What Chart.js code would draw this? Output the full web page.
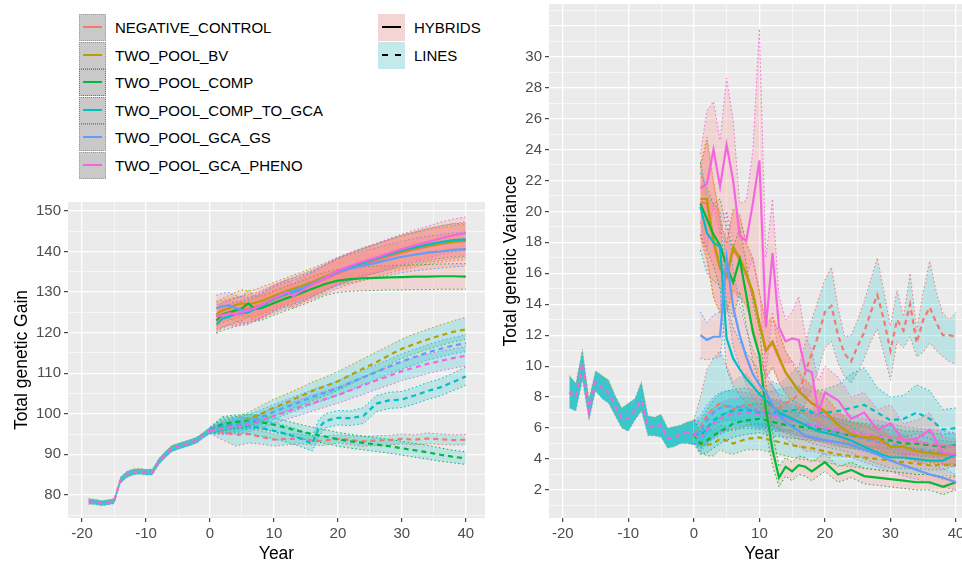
<!DOCTYPE html>
<html>
<head>
<meta charset="utf-8">
<script src="https://cdn.jsdelivr.net/npm/chart.js@4.4.0/dist/chart.umd.min.js"></script>
<style>
  html, body { margin: 0; padding: 0; }
  body { width: 962px; height: 566px; overflow: hidden; position: relative; background: #fff;
         font-family: "Liberation Sans", Arial, sans-serif; }
  #gainChart { position: absolute; left: 0; top: 190px; }
  #varChart { position: absolute; left: 490px; top: 0; }
  .leg-row { position: absolute; height: 27px; display: flex; align-items: center; font-size: 15px; color: #000; white-space: nowrap; }
  .key { width: 25px; height: 25px; border: 1px dotted; position: relative; margin-right: 9px; }
  .key span { position: absolute; left: 3px; right: 3px; top: 11px; border-top: 2px solid; }
</style>
</head>
<body>
<div id="legend"></div>
<canvas id="gainChart" width="490" height="376"></canvas>
<canvas id="varChart" width="485" height="566"></canvas>
<script>
// ---------- series ----------
const seriesNames = ["NEGATIVE_CONTROL", "TWO_POOL_BV", "TWO_POOL_COMP", "TWO_POOL_COMP_TO_GCA", "TWO_POOL_GCA_GS", "TWO_POOL_GCA_PHENO"];
const seriesColors = ["#F8766D", "#B79F00", "#00BA38", "#00BFC4", "#619CFF", "#F564E3"];
const typeNames = ["HYBRIDS", "LINES"];

// ---------- total genetic gain ----------
const burnYears = [-19, -18, -17, -16, -15, -14, -13, -12, -11, -10, -9, -8, -7, -6, -5, -4, -3, -2, -1, 0];
const gainBurn   = [78.4, 78.2, 77.9, 78.1, 78.4, 83.6, 85.0, 85.6, 85.8, 85.6, 85.6, 88.2, 89.9, 91.4, 91.9, 92.4, 92.9, 93.5, 94.7, 95.9];
const gainBurnLo = [77.7, 77.6, 77.3, 77.5, 77.8, 82.8, 84.3, 84.9, 85.1, 84.9, 84.9, 87.4, 89.1, 90.6, 91.2, 91.7, 92.2, 92.8, 94.0, 95.1];
const gainBurnHi = [79.1, 78.9, 78.6, 78.8, 79.1, 84.4, 85.8, 86.4, 86.5, 86.3, 86.4, 89.0, 90.7, 92.2, 92.7, 93.2, 93.7, 94.3, 95.5, 96.7];

const gainLineYears = [0, 2, 4, 6, 8, 10, 12, 14, 16, 17, 18, 20, 22, 24, 26, 28, 30, 32, 34, 36, 38, 40];
const gainLineNeg     = [95.9, 95.5, 94.8, 95.0, 94.3, 93.6, 93.8, 93.9, 93.4, 93.3, 93.4, 93.8, 93.5, 93.2, 93.4, 93.5, 93.8, 93.6, 93.9, 93.7, 93.5, 93.6];
const gainLineNegLo   = [95.1, 93.5, 92.0, 92.8, 92.5, 92.0, 92.3, 92.6, 92.3, 92.2, 92.2, 92.8, 92.4, 92.0, 92.2, 92.3, 92.6, 92.3, 92.6, 92.4, 92.3, 92.3];
const gainLineNegHi   = [96.7, 97.0, 96.5, 96.5, 95.8, 95.0, 95.1, 95.0, 94.5, 94.4, 94.6, 94.8, 94.6, 94.4, 94.6, 94.7, 95.0, 94.8, 95.3, 95.0, 94.8, 94.9];
const gainLineBv      = [95.9, 97.0, 97.8, 98.6, 100.0, 101.5, 102.8, 104.2, 105.6, 106.2, 106.8, 108.0, 109.6, 111.2, 112.7, 114.4, 116.0, 117.2, 118.3, 119.3, 120.2, 120.8];
const gainLineBvLo    = [95.1, 95.8, 96.3, 96.8, 98.0, 99.5, 100.7, 102.0, 103.3, 103.9, 104.5, 105.7, 107.3, 108.9, 110.4, 112.1, 113.6, 114.8, 115.9, 116.8, 117.7, 118.3];
const gainLineBvHi    = [96.7, 98.5, 99.2, 100.3, 102.0, 103.6, 104.9, 106.3, 107.8, 108.4, 109.0, 110.4, 112.0, 113.6, 115.2, 116.8, 118.4, 119.7, 120.8, 121.9, 122.9, 123.8];
const gainLineComp    = [95.9, 97.5, 98.0, 98.2, 97.9, 97.3, 96.5, 95.7, 95.0, 94.7, 94.4, 93.7, 93.2, 92.8, 92.4, 92.0, 91.5, 91.0, 90.5, 89.9, 89.4, 89.0];
const gainLineCompLo  = [95.1, 95.8, 96.3, 96.5, 96.2, 95.6, 94.8, 94.0, 93.3, 93.0, 92.7, 92.0, 91.5, 91.1, 90.7, 90.3, 89.8, 89.3, 88.8, 88.3, 87.9, 87.5];
const gainLineCompHi  = [96.7, 99.3, 99.7, 99.8, 99.6, 99.0, 98.2, 97.4, 96.7, 96.4, 96.1, 95.4, 94.9, 94.5, 94.1, 93.7, 93.2, 92.7, 92.2, 91.6, 91.0, 90.6];
const gainLineC2g     = [95.9, 97.0, 97.3, 97.0, 96.5, 95.8, 95.0, 94.0, 92.6, 96.5, 98.2, 99.0, 98.9, 99.5, 102.5, 103.3, 103.5, 104.5, 105.6, 106.5, 107.8, 109.2];
const gainLineC2gLo   = [95.1, 95.0, 95.3, 95.0, 94.5, 93.8, 93.0, 92.0, 90.8, 94.3, 96.5, 97.2, 97.1, 97.6, 100.5, 101.3, 101.5, 102.4, 103.5, 104.4, 105.7, 107.0];
const gainLineC2gHi   = [96.7, 99.0, 99.3, 99.0, 98.5, 97.8, 97.0, 96.0, 94.5, 98.5, 100.0, 100.8, 100.7, 101.5, 104.5, 105.3, 105.5, 106.5, 107.7, 108.6, 110.0, 111.5];
const gainLineGs      = [95.9, 96.6, 97.3, 98.0, 99.2, 100.5, 101.7, 102.9, 104.1, 104.7, 105.2, 106.3, 107.7, 109.0, 110.3, 111.6, 112.9, 114.0, 115.1, 116.0, 116.8, 117.4];
const gainLineGsLo    = [95.1, 95.2, 95.6, 96.2, 97.4, 98.7, 99.9, 101.1, 102.3, 102.9, 103.4, 104.5, 105.9, 107.2, 108.5, 109.8, 111.0, 112.1, 113.2, 114.0, 114.8, 115.3];
const gainLineGsHi    = [96.7, 98.0, 99.0, 99.8, 101.0, 102.3, 103.5, 104.7, 105.9, 106.5, 107.0, 108.1, 109.5, 110.8, 112.1, 113.4, 114.8, 115.9, 117.0, 118.0, 118.8, 119.5];
const gainLinePheno   = [95.9, 96.4, 96.8, 97.3, 98.3, 99.5, 100.5, 101.6, 102.6, 103.1, 103.6, 104.6, 105.8, 107.0, 108.2, 109.3, 110.5, 111.4, 112.3, 113.0, 113.7, 114.3];
const gainLinePhenoLo = [95.1, 94.9, 95.0, 95.5, 96.5, 97.6, 98.6, 99.6, 100.6, 101.1, 101.6, 102.6, 103.7, 104.8, 106.0, 107.0, 108.2, 109.0, 109.9, 110.6, 111.2, 111.8];
const gainLinePhenoHi = [96.7, 97.9, 98.6, 99.1, 100.1, 101.4, 102.4, 103.5, 104.6, 105.1, 105.6, 106.6, 107.9, 109.2, 110.4, 111.6, 112.8, 113.8, 114.7, 115.4, 116.0, 116.6];

const gainHybYears = [1, 2, 3, 4, 5, 6, 7, 8, 10, 12, 13, 14, 16, 18, 20, 22, 24, 26, 28, 30, 32, 34, 36, 38, 40];
const gainHybNeg     = [124.0, 124.5, 125.0, 125.3, 125.6, 126.0, 126.4, 126.9, 128.3, 129.5, 130.0, 130.6, 131.8, 133.2, 134.6, 135.8, 136.8, 137.8, 138.8, 139.7, 140.5, 141.2, 141.8, 142.3, 142.6];
const gainHybNegLo   = [120.5, 121.2, 121.8, 122.0, 122.3, 122.6, 123.0, 123.5, 124.8, 126.0, 126.5, 127.1, 128.3, 129.6, 130.9, 132.0, 132.9, 133.8, 134.7, 135.5, 136.2, 136.8, 137.3, 137.7, 137.9];
const gainHybNegHi   = [127.8, 128.0, 128.3, 128.7, 129.0, 129.4, 129.8, 130.3, 131.8, 133.0, 133.6, 134.2, 135.4, 136.8, 138.3, 139.6, 140.7, 141.8, 142.9, 143.9, 144.8, 145.6, 146.3, 146.9, 147.3];
const gainHybBv      = [124.5, 125.5, 126.0, 126.8, 127.2, 127.0, 127.3, 127.8, 129.0, 130.3, 130.8, 131.3, 132.5, 133.8, 135.2, 136.3, 137.3, 138.3, 139.2, 140.0, 140.8, 141.4, 142.0, 142.4, 142.7];
const gainHybBvLo    = [121.5, 122.5, 123.0, 123.6, 124.0, 123.8, 124.0, 124.5, 125.8, 127.2, 127.7, 128.2, 129.4, 130.6, 131.8, 132.8, 133.7, 134.6, 135.4, 136.1, 136.8, 137.3, 137.8, 138.2, 138.5];
const gainHybBvHi    = [127.5, 128.5, 129.2, 130.0, 130.5, 130.3, 130.6, 131.2, 132.4, 133.6, 134.2, 134.7, 135.9, 137.2, 138.6, 139.8, 140.9, 141.9, 142.9, 143.8, 144.6, 145.3, 145.9, 146.4, 146.8];
const gainHybComp    = [123.0, 124.5, 125.0, 125.5, 126.0, 127.2, 125.8, 126.0, 127.3, 128.5, 129.0, 129.6, 130.8, 132.0, 132.8, 133.2, 133.4, 133.5, 133.6, 133.7, 133.8, 133.8, 133.9, 133.9, 133.8];
const gainHybCompLo  = [120.0, 121.5, 122.0, 122.5, 123.0, 124.0, 122.8, 123.0, 124.3, 125.5, 126.0, 126.6, 127.8, 129.2, 129.9, 130.2, 130.3, 130.4, 130.5, 130.5, 130.6, 130.6, 130.7, 130.7, 130.7];
const gainHybCompHi  = [126.0, 127.5, 128.0, 128.5, 129.0, 130.3, 128.9, 129.0, 130.3, 131.5, 132.0, 132.6, 133.8, 134.9, 135.6, 136.0, 136.2, 136.4, 136.5, 136.6, 136.7, 136.8, 136.9, 137.0, 137.0];
const gainHybC2g     = [122.0, 123.5, 124.0, 124.5, 124.8, 125.0, 125.8, 126.5, 128.3, 129.5, 130.0, 130.5, 132.0, 133.5, 135.0, 136.2, 137.3, 138.3, 139.3, 140.3, 141.0, 141.7, 142.3, 142.8, 143.0];
const gainHybC2gLo   = [119.8, 120.6, 121.0, 121.5, 121.8, 122.0, 122.8, 123.5, 125.3, 126.5, 127.0, 127.5, 129.0, 130.4, 131.8, 132.9, 133.9, 134.8, 135.7, 136.6, 137.2, 137.8, 138.3, 138.7, 138.9];
const gainHybC2gHi   = [124.5, 126.3, 127.0, 127.5, 127.8, 128.0, 128.8, 129.5, 131.3, 132.5, 133.0, 133.5, 135.0, 136.6, 138.2, 139.5, 140.7, 141.8, 142.9, 144.0, 144.8, 145.6, 146.3, 146.8, 147.0];
const gainHybGs      = [126.0, 126.5, 126.7, 126.0, 125.6, 125.5, 126.0, 126.8, 128.5, 129.8, 130.3, 130.8, 132.0, 133.5, 135.0, 135.8, 136.5, 137.2, 138.0, 138.7, 139.2, 139.7, 140.0, 140.4, 140.6];
const gainHybGsLo    = [122.8, 123.3, 123.5, 122.8, 122.4, 122.3, 122.8, 123.6, 125.3, 126.6, 127.1, 127.6, 128.8, 130.2, 131.6, 132.3, 132.9, 133.5, 134.2, 134.8, 135.2, 135.6, 135.9, 136.2, 136.4];
const gainHybGsHi    = [129.2, 129.7, 129.9, 129.2, 128.8, 128.7, 129.2, 130.0, 131.7, 133.0, 133.5, 134.0, 135.2, 136.8, 138.4, 139.3, 140.1, 140.9, 141.8, 142.6, 143.2, 143.8, 144.1, 144.6, 144.8];
const gainHybPheno   = [124.0, 124.3, 124.8, 124.5, 125.0, 125.5, 126.0, 126.8, 128.5, 130.0, 129.0, 130.0, 131.8, 133.5, 135.3, 136.5, 137.6, 138.5, 139.6, 140.6, 141.5, 142.3, 143.2, 144.0, 144.5];
const gainHybPhenoLo = [121.0, 121.3, 121.8, 121.5, 122.0, 122.5, 123.0, 123.8, 125.5, 127.0, 126.0, 127.0, 128.8, 130.4, 132.1, 133.2, 134.2, 135.0, 136.0, 136.9, 137.7, 138.4, 139.2, 139.9, 140.3];
const gainHybPhenoHi = [127.0, 127.3, 127.8, 127.5, 128.0, 128.5, 129.0, 129.8, 131.5, 133.0, 132.0, 133.0, 134.8, 136.6, 138.5, 139.8, 141.0, 142.0, 143.2, 144.3, 145.3, 146.2, 147.2, 148.0, 148.5];

// ---------- total genetic variance ----------
const varBurn   = [8.3, 8.0, 10.2, 7.1, 9.0, 8.6, 8.3, 7.4, 6.6, 6.6, 7.2, 7.8, 6.1, 6.1, 6.2, 5.3, 5.4, 5.6, 5.7, 5.6];
const varBurnLo = [7.3, 7.1, 9.1, 6.5, 8.4, 7.9, 7.6, 6.8, 6.0, 5.8, 6.5, 7.1, 5.5, 5.5, 5.4, 4.7, 4.8, 5.0, 5.0, 4.9];
const varBurnHi = [9.4, 8.9, 11.1, 7.9, 9.7, 9.4, 9.1, 8.1, 7.3, 7.6, 7.9, 9.0, 6.8, 6.7, 6.9, 6.0, 6.1, 6.2, 6.4, 6.5];

const varNegYears = [0, 1, 2, 3, 4, 5, 6, 7, 8, 9, 10, 11, 12, 13, 14, 15, 16, 17, 18, 19, 20, 21, 22, 23, 24, 25, 26, 27, 28, 29, 30, 31, 32, 33, 34, 35, 36, 37, 38, 39, 40];
const varLineNeg   = [5.6, 6.0, 6.8, 7.3, 7.6, 7.4, 7.2, 7.3, 7.6, 7.4, 7.0, 7.2, 7.5, 7.3, 7.6, 7.8, 8.2, 9.6, 10.8, 12.0, 13.5, 13.9, 12.0, 10.8, 10.3, 11.3, 12.2, 13.5, 14.6, 13.0, 11.0, 13.0, 12.3, 14.0, 11.5, 13.0, 13.8, 12.8, 12.0, 12.0, 11.9];
const varLineNegLo = [5.0, 4.8, 5.0, 5.4, 5.8, 5.8, 5.9, 6.0, 6.2, 6.2, 6.0, 6.1, 6.2, 6.0, 6.3, 6.4, 6.8, 7.5, 8.5, 9.8, 11.2, 11.6, 10.2, 9.3, 8.9, 9.6, 10.5, 11.6, 12.4, 10.8, 9.1, 11.6, 11.2, 11.9, 10.6, 10.9, 11.5, 11.0, 10.6, 10.3, 10.1];
const varLineNegHi = [6.5, 8.0, 9.8, 10.5, 11.0, 10.0, 9.0, 9.3, 9.5, 9.0, 8.5, 8.7, 9.0, 8.8, 9.2, 9.6, 10.0, 11.5, 13.0, 14.3, 15.6, 16.4, 13.8, 11.9, 12.0, 13.0, 14.2, 15.6, 17.0, 14.8, 12.6, 14.9, 13.2, 16.0, 12.3, 14.8, 16.8, 14.8, 13.4, 13.0, 13.5];

const varLineYears = [0, 1, 2, 3, 4, 5, 6, 8, 10, 12, 14, 16, 18, 20, 22, 24, 26, 28, 30, 32, 34, 36, 38, 40];
const varLineBv      = [5.6, 5.0, 4.9, 5.0, 5.3, 5.2, 5.0, 5.3, 5.4, 5.2, 5.0, 4.8, 4.7, 4.5, 4.3, 4.2, 4.1, 4.0, 3.9, 3.8, 3.7, 3.6, 3.6, 3.6];
const varLineBvLo    = [5.0, 4.4, 4.2, 4.2, 4.6, 4.4, 4.3, 4.6, 4.6, 4.4, 4.2, 4.0, 3.9, 3.8, 3.6, 3.5, 3.4, 3.3, 3.2, 3.1, 3.0, 3.0, 2.9, 2.9];
const varLineBvHi    = [6.5, 5.7, 5.8, 5.9, 6.2, 6.1, 5.8, 6.2, 6.3, 6.1, 5.9, 5.7, 5.5, 5.3, 5.1, 5.0, 4.9, 4.8, 4.7, 4.6, 4.5, 4.4, 4.3, 4.4];
const varLineComp    = [5.6, 5.0, 5.2, 5.5, 5.8, 6.0, 6.3, 6.5, 6.6, 6.4, 6.2, 6.1, 6.0, 5.9, 5.7, 5.5, 5.4, 5.3, 5.2, 5.0, 5.0, 4.9, 4.8, 4.9];
const varLineCompLo  = [5.0, 4.3, 4.4, 4.7, 5.0, 5.2, 5.4, 5.6, 5.7, 5.5, 5.4, 5.3, 5.2, 5.1, 4.9, 4.7, 4.6, 4.5, 4.4, 4.3, 4.2, 4.1, 4.1, 4.1];
const varLineCompHi  = [6.5, 5.8, 6.1, 6.4, 6.7, 7.0, 7.3, 7.5, 7.6, 7.4, 7.1, 7.0, 6.9, 6.8, 6.6, 6.4, 6.3, 6.2, 6.1, 5.8, 5.8, 5.7, 5.6, 5.7];
const varLineC2g     = [5.6, 5.5, 6.0, 6.5, 6.8, 7.0, 7.1, 7.2, 7.0, 7.0, 7.1, 7.2, 7.0, 7.0, 7.1, 7.3, 7.5, 7.0, 6.5, 6.6, 7.0, 6.6, 5.9, 6.0];
const varLineC2gLo   = [5.0, 4.7, 5.0, 5.3, 5.6, 5.8, 5.9, 6.0, 5.9, 5.8, 5.8, 5.9, 5.8, 5.7, 5.8, 5.9, 6.1, 5.7, 5.3, 5.4, 5.6, 5.3, 4.8, 4.9];
const varLineC2gHi   = [6.5, 6.5, 7.2, 7.8, 8.2, 8.4, 8.5, 8.6, 8.3, 8.4, 8.6, 8.7, 8.4, 8.5, 8.8, 9.5, 9.9, 8.6, 8.0, 8.1, 8.8, 8.4, 7.2, 7.3];
const varLineGs      = [5.6, 5.8, 6.5, 7.0, 7.3, 7.4, 7.4, 7.3, 7.1, 6.9, 6.7, 6.4, 6.2, 5.9, 5.7, 5.5, 5.3, 5.1, 5.0, 4.8, 4.6, 4.5, 4.4, 4.3];
const varLineGsLo    = [5.0, 4.9, 5.6, 6.1, 6.4, 6.5, 6.5, 6.4, 6.2, 6.0, 5.8, 5.5, 5.3, 5.0, 4.8, 4.7, 4.5, 4.3, 4.2, 4.0, 3.9, 3.8, 3.7, 3.6];
const varLineGsHi    = [6.5, 6.8, 7.5, 8.0, 8.3, 8.4, 8.4, 8.3, 8.1, 7.9, 7.7, 7.4, 7.1, 6.8, 6.6, 6.4, 6.2, 6.0, 5.9, 5.6, 5.4, 5.3, 5.2, 5.1];
const varLinePheno   = [5.6, 5.3, 5.9, 6.3, 6.6, 6.8, 6.9, 7.0, 6.9, 6.8, 6.6, 6.4, 6.2, 6.0, 5.9, 5.8, 5.6, 5.5, 5.4, 5.2, 5.1, 5.0, 4.9, 4.8];
const varLinePhenoLo = [5.0, 4.4, 5.0, 5.4, 5.7, 5.9, 6.0, 6.1, 6.0, 5.9, 5.7, 5.5, 5.3, 5.1, 5.0, 4.9, 4.8, 4.7, 4.6, 4.4, 4.3, 4.2, 4.1, 4.0];
const varLinePhenoHi = [6.5, 6.3, 6.9, 7.3, 7.6, 7.8, 7.9, 8.0, 7.9, 7.8, 7.6, 7.4, 7.2, 7.0, 6.9, 6.8, 6.6, 6.5, 6.3, 6.1, 6.0, 5.9, 5.8, 5.7];

const varHybYears = [1, 2, 3, 4, 5, 6, 7, 8, 9, 10, 11, 12, 13, 14, 15, 16, 17, 18, 19, 20, 22, 24, 26, 28, 30, 32, 34, 36, 38, 40];
const varHybNeg     = [20.6, 20.5, 18.0, 16.3, 15.7, 17.5, 16.9, 15.9, 14.6, 12.7, 11.0, 11.5, 10.5, 9.6, 9.0, 8.4, 8.0, 7.6, 7.3, 7.0, 6.2, 5.6, 5.4, 5.3, 4.8, 4.8, 4.5, 4.4, 4.3, 4.3];
const varHybNegLo   = [18.3, 16.8, 14.4, 13.4, 13.4, 14.8, 14.4, 13.9, 12.4, 10.7, 9.2, 9.9, 8.9, 8.2, 7.7, 7.1, 6.8, 6.4, 6.3, 6.0, 5.3, 4.8, 4.6, 4.6, 4.1, 4.1, 3.8, 3.7, 3.6, 3.6];
const varHybNegHi   = [22.8, 24.5, 21.8, 19.3, 17.9, 20.0, 19.6, 17.9, 16.8, 14.7, 12.7, 13.1, 12.1, 10.9, 10.2, 9.5, 9.1, 8.6, 8.3, 8.0, 7.0, 6.3, 6.1, 6.0, 5.4, 5.4, 5.1, 4.9, 4.8, 4.8];
const varHybBv      = [20.8, 20.8, 18.1, 16.4, 15.8, 17.7, 17.0, 16.0, 14.8, 12.8, 11.0, 11.6, 10.6, 9.6, 9.0, 8.4, 8.0, 7.6, 7.4, 7.1, 6.2, 5.6, 5.4, 5.4, 4.8, 4.8, 4.5, 4.4, 4.3, 4.3];
const varHybBvLo    = [18.5, 17.0, 14.5, 13.5, 13.5, 15.0, 14.5, 14.0, 12.5, 10.8, 9.3, 10.0, 9.0, 8.3, 7.8, 7.2, 6.9, 6.5, 6.4, 6.1, 5.4, 4.9, 4.7, 4.7, 4.2, 4.2, 3.9, 3.8, 3.7, 3.7];
const varHybBvHi    = [23.0, 24.8, 22.0, 19.5, 18.0, 20.2, 19.8, 18.0, 17.0, 14.8, 12.8, 13.2, 12.2, 11.0, 10.3, 9.6, 9.2, 8.7, 8.4, 8.1, 7.1, 6.4, 6.2, 6.1, 5.5, 5.5, 5.2, 5.0, 4.9, 4.9];
const varHybComp    = [20.5, 19.5, 18.5, 17.8, 16.5, 15.4, 16.9, 14.6, 12.2, 10.7, 7.2, 4.6, 2.8, 3.5, 3.2, 3.6, 3.5, 3.2, 3.5, 3.8, 3.0, 3.3, 2.9, 2.8, 2.7, 2.6, 2.5, 2.5, 2.2, 2.5];
const varHybCompLo  = [18.5, 17.5, 16.5, 15.0, 14.0, 13.2, 14.8, 12.6, 10.3, 9.0, 5.8, 3.6, 2.2, 2.9, 2.6, 3.0, 2.9, 2.6, 2.9, 3.2, 2.5, 2.8, 2.4, 2.3, 2.2, 2.1, 2.0, 2.0, 1.7, 2.0];
const varHybCompHi  = [22.5, 21.5, 20.5, 20.8, 19.0, 17.6, 19.0, 16.6, 14.1, 12.4, 8.7, 5.8, 3.5, 4.1, 3.8, 4.2, 4.1, 3.8, 4.1, 4.4, 3.5, 3.8, 3.4, 3.3, 3.2, 3.1, 3.0, 3.0, 2.7, 2.9];
const varHybC2g     = [20.3, 18.6, 18.0, 17.7, 11.8, 10.5, 9.8, 9.2, 8.7, 8.2, 7.8, 7.4, 7.0, 6.8, 6.6, 6.4, 6.2, 6.0, 5.8, 5.7, 5.5, 5.2, 4.8, 4.4, 4.1, 4.1, 4.0, 3.9, 3.9, 4.3];
const varHybC2gLo   = [17.5, 16.0, 15.5, 15.2, 9.8, 8.7, 8.1, 7.6, 7.2, 6.8, 6.5, 6.2, 5.9, 5.7, 5.5, 5.3, 5.2, 5.0, 4.9, 4.8, 4.6, 4.4, 4.0, 3.7, 3.4, 3.4, 3.4, 3.3, 3.3, 3.6];
const varHybC2gHi   = [23.2, 21.0, 20.5, 20.0, 14.0, 12.5, 11.6, 10.9, 10.3, 9.7, 9.2, 8.7, 8.2, 8.0, 7.8, 7.6, 7.3, 7.1, 6.8, 6.7, 6.4, 6.1, 5.6, 5.2, 4.8, 4.8, 4.7, 4.6, 4.6, 5.0];
const varHybGs      = [12.0, 11.7, 11.9, 11.9, 17.0, 13.8, 12.0, 10.6, 9.5, 8.8, 8.3, 7.5, 6.8, 6.4, 6.1, 5.8, 5.5, 5.4, 5.3, 5.2, 5.1, 4.9, 4.6, 4.3, 3.9, 3.6, 3.3, 3.0, 2.8, 2.5];
const varHybGsLo    = [10.5, 10.4, 10.5, 10.6, 14.0, 11.3, 10.0, 8.8, 7.9, 7.3, 6.9, 6.2, 5.6, 5.3, 5.0, 4.8, 4.5, 4.5, 4.4, 4.3, 4.2, 4.1, 3.8, 3.5, 3.2, 2.9, 2.7, 2.4, 2.2, 2.0];
const varHybGsHi    = [13.5, 12.8, 13.3, 13.5, 20.0, 16.3, 14.0, 12.4, 11.1, 10.3, 9.7, 8.8, 8.0, 7.5, 7.2, 6.8, 6.5, 6.3, 6.2, 6.1, 6.0, 5.7, 5.4, 5.1, 4.6, 4.3, 3.9, 3.6, 3.4, 3.0];
const varHybPheno   = [21.5, 21.8, 24.0, 21.6, 24.3, 22.0, 18.4, 18.1, 20.5, 23.3, 12.5, 17.3, 12.5, 11.6, 11.8, 11.7, 9.8, 9.6, 7.0, 8.3, 7.8, 6.6, 7.0, 5.9, 6.3, 5.2, 5.3, 5.9, 4.4, 4.3];
const varHybPhenoLo = [19.3, 17.5, 20.5, 18.5, 20.0, 18.0, 16.5, 15.8, 17.0, 15.0, 9.5, 13.5, 10.5, 10.2, 10.3, 9.8, 8.0, 8.0, 5.5, 6.8, 6.5, 5.5, 5.8, 4.8, 5.2, 4.3, 4.3, 4.9, 3.6, 3.5];
const varHybPhenoHi = [23.7, 26.5, 27.1, 24.6, 28.6, 25.9, 20.5, 20.7, 23.9, 31.8, 17.0, 20.8, 14.5, 13.0, 13.5, 14.5, 12.0, 11.0, 9.0, 10.0, 9.3, 8.0, 8.3, 7.2, 7.5, 6.3, 6.5, 7.0, 5.4, 5.3];

// ---------- axis ticks ----------
const yearTicks = [-20, -15, -10, -5, 0, 5, 10, 15, 20, 25, 30, 35, 40];
const yearLabels = [-20, -10, 0, 10, 20, 30, 40];
const gainTicks = [75, 80, 85, 90, 95, 100, 105, 110, 115, 120, 125, 130, 135, 140, 145, 150];
const gainLabels = [80, 90, 100, 110, 120, 130, 140, 150];
const varTicks = [1, 2, 3, 4, 5, 6, 7, 8, 9, 10, 11, 12, 13, 14, 15, 16, 17, 18, 19, 20, 21, 22, 23, 24, 25, 26, 27, 28, 29, 30, 31, 32, 33];
const varLabels = [2, 4, 6, 8, 10, 12, 14, 16, 18, 20, 22, 24, 26, 28, 30];
const varMajorGrid = varLabels.concat([32]);

const hybFill = "rgba(248,118,109,0.2)";
const lineFill = "rgba(0,191,196,0.2)";
const burnFill = "rgba(45,194,197,0.92)";
const burnEdge = "rgba(190,150,70,0.7)";

Chart.defaults.font.family = "'Liberation Sans', Arial, sans-serif";

// ---------- legend ----------
const legend = document.getElementById("legend");
seriesNames.forEach(function (name, i) {
    const row = document.createElement("div");
    row.className = "leg-row";
    row.style.left = "79px";
    row.style.top = (14 + i * 27.5) + "px";
    row.innerHTML = '<div class="key" style="border-color:' + seriesColors[i] + ';background:#c9c9c9"><span style="border-top-color:' + seriesColors[i] + '"></span></div>' + name;
    legend.appendChild(row);
});
typeNames.forEach(function (name, i) {
    const row = document.createElement("div");
    row.className = "leg-row";
    row.style.left = "378px";
    row.style.top = (14 + i * 27.5) + "px";
    const bg = i === 0 ? "#f3d6d4" : "#c4e9ea";
    const line = i === 0 ? "2px solid #000" : "2px dashed #000";
    row.innerHTML = '<div class="key" style="border:1px solid ' + bg + ';background:' + bg + '"><span style="border-top:' + line + '"></span></div>' + name;
    legend.appendChild(row);
});

// ---------- chart helpers ----------
const panelBg = {
    id: "panelBg",
    beforeDraw(chart) {
        const { ctx, chartArea: a } = chart;
        ctx.save();
        ctx.fillStyle = "#ebebeb";
        ctx.fillRect(a.left, a.top, a.right - a.left, a.bottom - a.top);
        ctx.restore();
    }
};

// groups listed bottom to top; Chart.js draws the first dataset on top
function buildSets(groups) {
    const lines = [], bands = [];
    groups.slice().reverse().forEach(function (g) {
        const pts = arr => g.x.map((x, i) => ({ x: x, y: arr[i] }));
        const edge = g.edge || g.color;
        lines.push({ data: pts(g.mean), borderColor: g.color, borderWidth: 2.2,
            borderDash: g.dashed ? [5, 4] : [], pointRadius: 0, fill: false });
        bands.push({ data: pts(g.hi), borderColor: edge, borderWidth: 1,
            borderDash: [1.5, 2.5], pointRadius: 0, fill: "+1", backgroundColor: g.fill });
        bands.push({ data: pts(g.lo), borderColor: edge, borderWidth: 1,
            borderDash: [1.5, 2.5], pointRadius: 0, fill: false });
    });
    return lines.concat(bands);
}

function axis(cfg) {
    return {
        type: "linear",
        min: cfg.min,
        max: cfg.max,
        afterBuildTicks: s => { s.ticks = cfg.ticks.map(v => ({ value: v })); },
        afterFit: s => {
            if (cfg.width) s.width = cfg.width;
            if (cfg.height) s.height = cfg.height;
            s.paddingLeft = 0; s.paddingRight = 0; s.paddingTop = 0; s.paddingBottom = 0;
        },
        ticks: {
            autoSkip: false, maxRotation: 0, padding: 3, color: "#4d4d4d", font: { size: 15 },
            callback: v => cfg.labels.includes(v) ? String(v) : ""
        },
        grid: {
            color: "#ffffff",
            lineWidth: c => cfg.major.includes(c.tick.value) ? 1.3 : 0.6,
            tickLength: 4,
            tickWidth: 1.1,
            tickColor: c => cfg.labels.includes(c.tick.value) ? "#333333" : "rgba(0,0,0,0)"
        },
        border: { display: false },
        title: { display: true, text: cfg.title, color: "#000", font: { size: 17.5 }, padding: cfg.titlePad }
    };
}

function options(pad, x, y) {
    return {
        responsive: false,
        animation: false,
        events: [],
        layout: { padding: pad },
        plugins: { legend: { display: false }, tooltip: { enabled: false } },
        elements: { line: { tension: 0 }, point: { radius: 0 } },
        scales: { x: axis(x), y: axis(y) }
    };
}

function seriesGroups(burn, lineYears, lineSets, hybYears, hybSets) {
    const g = [{ x: burnYears, mean: burn[0], lo: burn[1], hi: burn[2], color: seriesColors[5], dashed: true, fill: burnFill, edge: burnEdge }];
    lineSets.forEach((s, i) => g.push({ x: lineYears[i], mean: s[0], lo: s[1], hi: s[2], color: seriesColors[i], dashed: true, fill: lineFill }));
    hybSets.forEach((s, i) => g.push({ x: hybYears, mean: s[0], lo: s[1], hi: s[2], color: seriesColors[i], dashed: false, fill: hybFill }));
    return g;
}

// ---------- gain chart ----------
const gainGroups = seriesGroups(
    [gainBurn, gainBurnLo, gainBurnHi],
    [gainLineYears, gainLineYears, gainLineYears, gainLineYears, gainLineYears, gainLineYears],
    [[gainLineNeg, gainLineNegLo, gainLineNegHi], [gainLineBv, gainLineBvLo, gainLineBvHi],
     [gainLineComp, gainLineCompLo, gainLineCompHi], [gainLineC2g, gainLineC2gLo, gainLineC2gHi],
     [gainLineGs, gainLineGsLo, gainLineGsHi], [gainLinePheno, gainLinePhenoLo, gainLinePhenoHi]],
    gainHybYears,
    [[gainHybNeg, gainHybNegLo, gainHybNegHi], [gainHybBv, gainHybBvLo, gainHybBvHi],
     [gainHybComp, gainHybCompLo, gainHybCompHi], [gainHybC2g, gainHybC2gLo, gainHybC2gHi],
     [gainHybGs, gainHybGsLo, gainHybGsHi], [gainHybPheno, gainHybPhenoLo, gainHybPhenoHi]]
);

new Chart(document.getElementById("gainChart"), {
    type: "line",
    data: { datasets: buildSets(gainGroups) },
    options: options({ top: 12, right: 5, bottom: 0, left: 0 },
        { min: -22.2, max: 43, ticks: yearTicks, labels: yearLabels, major: yearLabels, height: 48,
          title: "Year", titlePad: { top: 0, bottom: 1 } },
        { min: 74.3, max: 152.2, ticks: gainTicks, labels: gainLabels, major: gainLabels, width: 68,
          title: "Total genetic Gain", titlePad: { top: 12, bottom: 0 } }),
    plugins: [panelBg]
});

// ---------- variance chart ----------
const varGroups = seriesGroups(
    [varBurn, varBurnLo, varBurnHi],
    [varNegYears, varLineYears, varLineYears, varLineYears, varLineYears, varLineYears],
    [[varLineNeg, varLineNegLo, varLineNegHi], [varLineBv, varLineBvLo, varLineBvHi],
     [varLineComp, varLineCompLo, varLineCompHi], [varLineC2g, varLineC2gLo, varLineC2gHi],
     [varLineGs, varLineGsLo, varLineGsHi], [varLinePheno, varLinePhenoLo, varLinePhenoHi]],
    varHybYears,
    [[varHybNeg, varHybNegLo, varHybNegHi], [varHybBv, varHybBvLo, varHybBvHi],
     [varHybComp, varHybCompLo, varHybCompHi], [varHybC2g, varHybC2gLo, varHybC2gHi],
     [varHybGs, varHybGsLo, varHybGsHi], [varHybPheno, varHybPhenoLo, varHybPhenoHi]]
);

new Chart(document.getElementById("varChart"), {
    type: "line",
    data: { datasets: buildSets(varGroups) },
    options: options({ top: 4, right: 0, bottom: 0, left: 0 },
        { min: -22.1, max: 42.9, ticks: yearTicks, labels: yearLabels, major: yearLabels, height: 48,
          title: "Year", titlePad: { top: 0, bottom: 1 } },
        { min: 0.19, max: 33.4, ticks: varTicks, labels: varLabels, major: varMajorGrid, width: 59,
          title: "Total genetic Variance", titlePad: { top: 11, bottom: 0 } }),
    plugins: [panelBg]
});
</script>
</body>
</html>
